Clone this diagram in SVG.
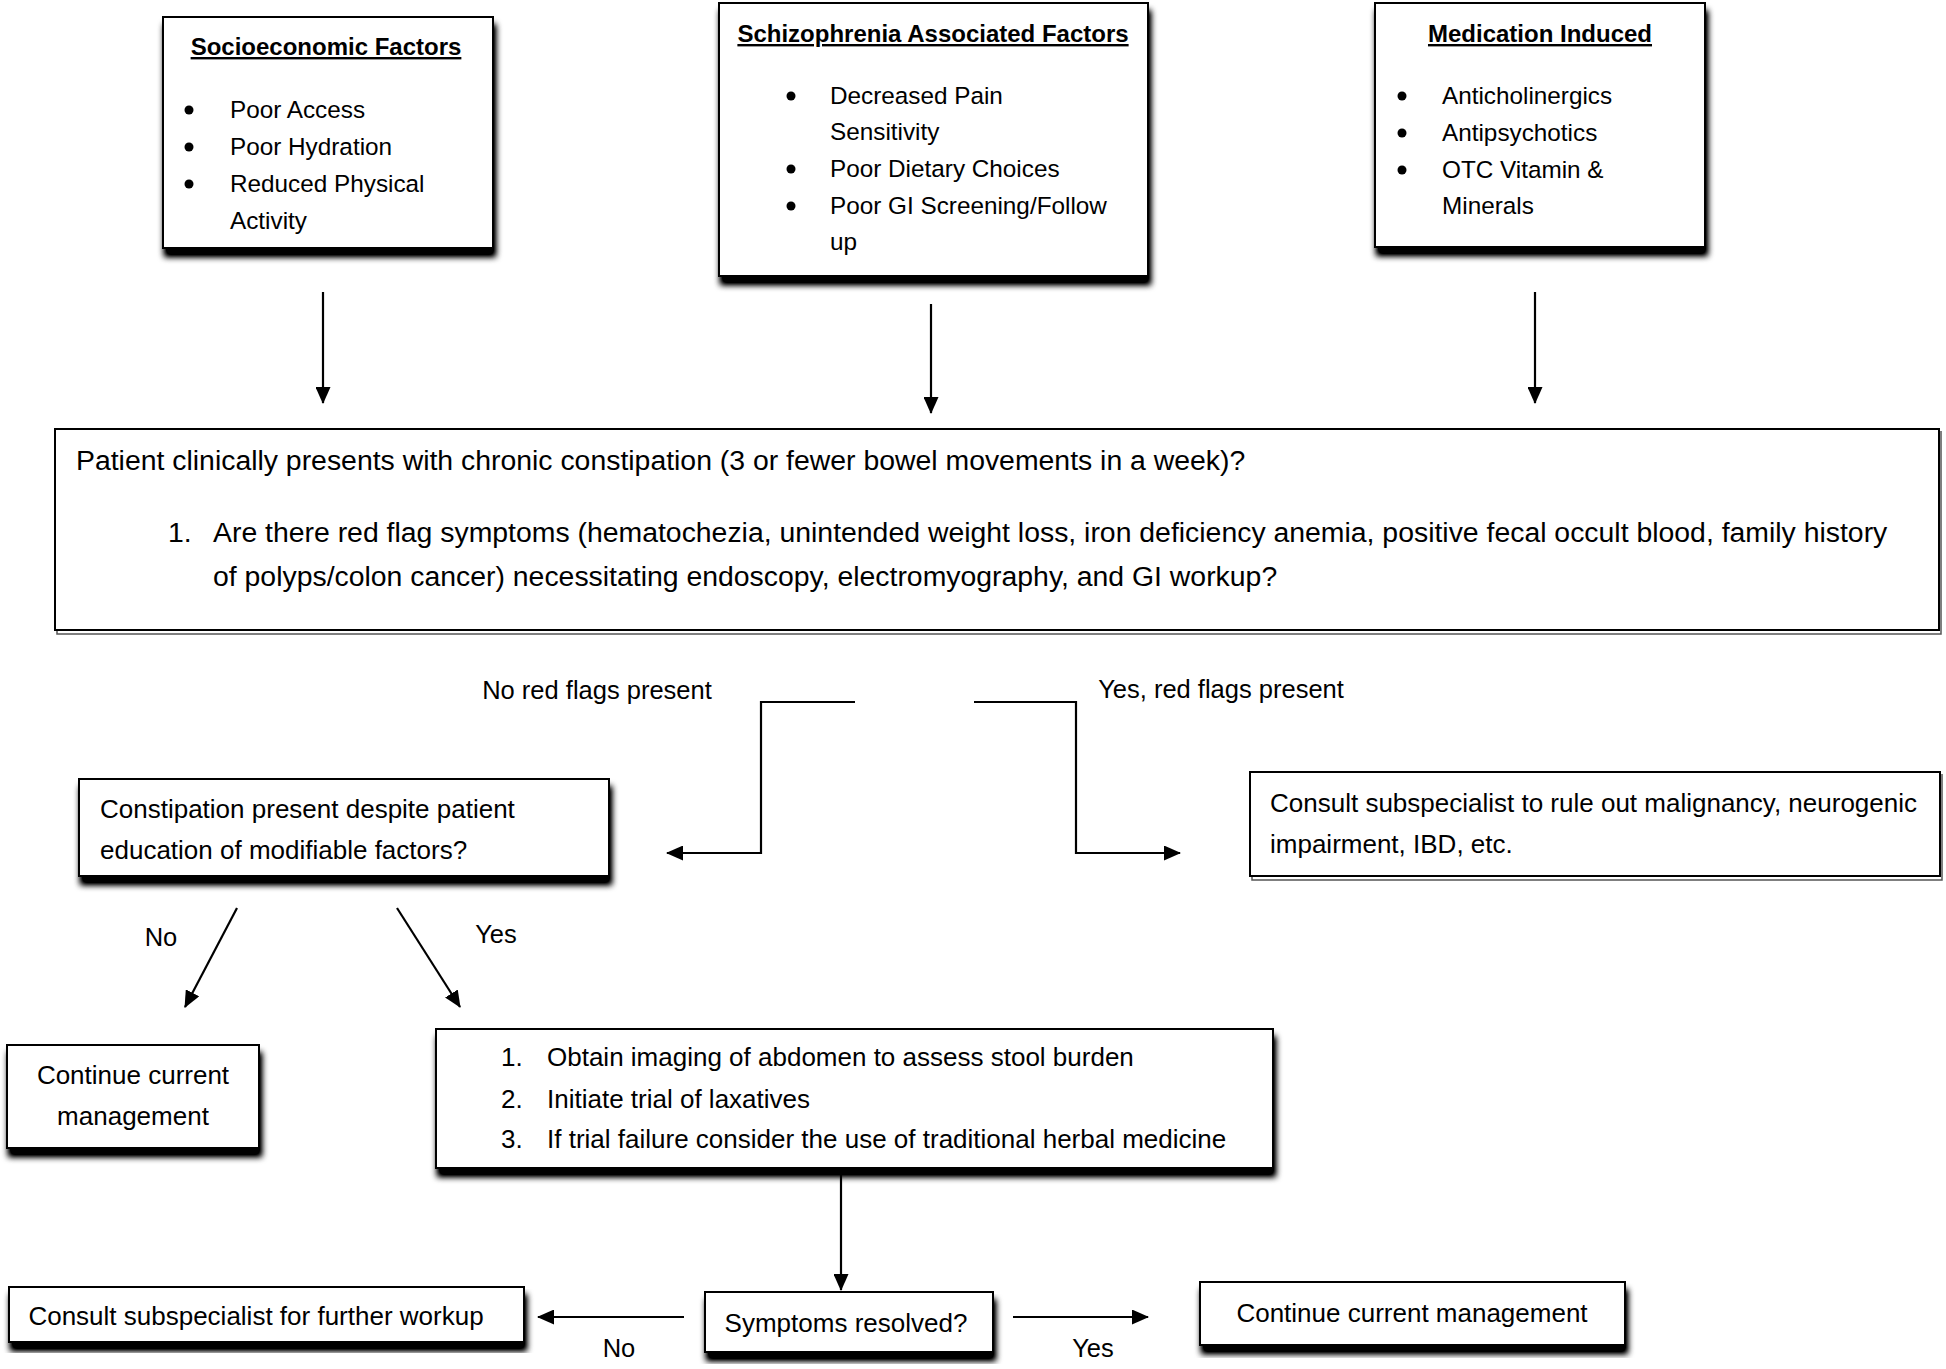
<svg xmlns="http://www.w3.org/2000/svg" width="1946" height="1369" viewBox="0 0 1946 1369">
<style>
text{font-family:"Liberation Sans",Arial,sans-serif;font-size:26px;fill:#000}
.t{font-weight:bold;font-size:24px;text-decoration:underline;text-anchor:middle}
.b{font-size:24.3px}
.m{font-size:28.4px}
.l{font-size:25.5px}
.c{text-anchor:middle}
.box{fill:#fff;stroke:#000;stroke-width:2}
.ln{fill:none;stroke:#000;stroke-width:2.2}
.thin{fill:none;stroke:#555;stroke-width:1.5}
</style>
<defs>
<filter id="sh" x="-5%" y="-10%" width="112%" height="130%">
<feGaussianBlur in="SourceAlpha" stdDeviation="3"/>
<feOffset dx="2" dy="8" result="o"/>
<feComponentTransfer><feFuncA type="linear" slope="1.3"/></feComponentTransfer>
<feMerge><feMergeNode/><feMergeNode in="SourceGraphic"/></feMerge>
</filter>
<marker id="ah" markerUnits="userSpaceOnUse" markerWidth="17" markerHeight="15" refX="16" refY="7.5" orient="auto">
<path d="M0,0 L17,7.5 L0,15 Z" fill="#000"/>
</marker>
</defs>
<rect width="1946" height="1369" fill="#fff"/>

<g id="connectors">
<line class="ln" x1="323" y1="292" x2="323" y2="403" marker-end="url(#ah)"/>
<line class="ln" x1="931" y1="304" x2="931" y2="413" marker-end="url(#ah)"/>
<line class="ln" x1="1535" y1="292" x2="1535" y2="403" marker-end="url(#ah)"/>
<polyline class="ln" points="855,702 761,702 761,853 667,853" marker-end="url(#ah)"/>
<polyline class="ln" points="974,702 1076,702 1076,853 1180,853" marker-end="url(#ah)"/>
<line class="ln" x1="237" y1="908" x2="185" y2="1007" marker-end="url(#ah)"/>
<line class="ln" x1="397" y1="908" x2="460" y2="1007" marker-end="url(#ah)"/>
<line class="ln" x1="841" y1="1170" x2="841" y2="1290" marker-end="url(#ah)"/>
<line class="ln" x1="684" y1="1317" x2="538" y2="1317" marker-end="url(#ah)"/>
<line class="ln" x1="1013" y1="1317" x2="1148" y2="1317" marker-end="url(#ah)"/>
<text x="597" y="699" class="c l">No red flags present</text>
<text x="1221" y="698" class="c l">Yes, red flags present</text>
<text x="161" y="946" class="c l">No</text>
<text x="496" y="943" class="c l">Yes</text>
<text x="619" y="1357" class="c l">No</text>
<text x="1093" y="1357" class="c l">Yes</text>
</g>

<g id="socioeconomic">
<rect class="box" x="163" y="17" width="330" height="231" filter="url(#sh)"/>
<text x="326" y="55" class="t">Socioeconomic Factors</text>
<circle cx="189" cy="110" r="4.5"/><text x="230" y="118" class="b">Poor Access</text>
<circle cx="189" cy="147" r="4.5"/><text x="230" y="155" class="b">Poor Hydration</text>
<circle cx="189" cy="184" r="4.5"/><text x="230" y="192" class="b">Reduced Physical</text>
<text x="230" y="229" class="b">Activity</text>
</g>

<g id="schizophrenia">
<rect class="box" x="719" y="3" width="429" height="273" filter="url(#sh)"/>
<text x="933" y="42" class="t">Schizophrenia Associated Factors</text>
<circle cx="791" cy="96" r="4.5"/><text x="830" y="104" class="b">Decreased Pain</text>
<text x="830" y="140" class="b">Sensitivity</text>
<circle cx="791" cy="169" r="4.5"/><text x="830" y="177" class="b">Poor Dietary Choices</text>
<circle cx="791" cy="206" r="4.5"/><text x="830" y="214" class="b">Poor GI Screening/Follow</text>
<text x="830" y="250" class="b">up</text>
</g>

<g id="medication">
<rect class="box" x="1375" y="3" width="330" height="244" filter="url(#sh)"/>
<text x="1540" y="42" class="t">Medication Induced</text>
<circle cx="1402" cy="96" r="4.5"/><text x="1442" y="104" class="b">Anticholinergics</text>
<circle cx="1402" cy="133" r="4.5"/><text x="1442" y="141" class="b">Antipsychotics</text>
<circle cx="1402" cy="170" r="4.5"/><text x="1442" y="178" class="b">OTC Vitamin &amp;</text>
<text x="1442" y="214" class="b">Minerals</text>
</g>

<g id="presentation">
<polyline class="thin" points="57,630 57,634 1941,634 1941,431"/>
<rect class="box" x="55" y="429" width="1884" height="201"/>
<text x="76" y="470" class="m">Patient clinically presents with chronic constipation (3 or fewer bowel movements in a week)?</text>
<text x="168" y="542" class="m">1.</text>
<text x="213" y="542" class="m">Are there red flag symptoms (hematochezia, unintended weight loss, iron deficiency anemia, positive fecal occult blood, family history</text>
<text x="213" y="586" class="m">of polyps/colon cancer) necessitating endoscopy, electromyography, and GI workup?</text>
</g>

<g id="education">
<rect class="box" x="79" y="779" width="530" height="97" filter="url(#sh)"/>
<text x="100" y="818">Constipation present despite patient</text>
<text x="100" y="859">education of modifiable factors?</text>
</g>

<g id="consult-redflags">
<polyline class="thin" points="1252,876 1252,880 1942,880 1942,774"/>
<rect class="box" x="1250" y="772" width="690" height="104"/>
<text x="1270" y="812">Consult subspecialist to rule out malignancy, neurogenic</text>
<text x="1270" y="853">impairment, IBD, etc.</text>
</g>

<g id="continue-left">
<rect class="box" x="7" y="1045" width="252" height="103" filter="url(#sh)"/>
<text x="133" y="1084" class="c">Continue current</text>
<text x="133" y="1125" class="c">management</text>
</g>

<g id="treatment">
<rect class="box" x="436" y="1029" width="837" height="139" filter="url(#sh)"/>
<text x="501" y="1066">1.</text><text x="547" y="1066">Obtain imaging of abdomen to assess stool burden</text>
<text x="501" y="1108">2.</text><text x="547" y="1108">Initiate trial of laxatives</text>
<text x="501" y="1148">3.</text><text x="547" y="1148">If trial failure consider the use of traditional herbal medicine</text>
</g>

<g id="resolved">
<rect class="box" x="705" y="1292" width="288" height="60" filter="url(#sh)"/>
<text x="846" y="1332" class="c">Symptoms resolved?</text>
</g>

<g id="consult-further">
<rect class="box" x="9" y="1287" width="515" height="55" filter="url(#sh)"/>
<text x="256" y="1325" class="c">Consult subspecialist for further workup</text>
</g>

<g id="continue-right">
<rect class="box" x="1200" y="1282" width="425" height="63" filter="url(#sh)"/>
<text x="1412" y="1322" class="c">Continue current management</text>
</g>
</svg>
